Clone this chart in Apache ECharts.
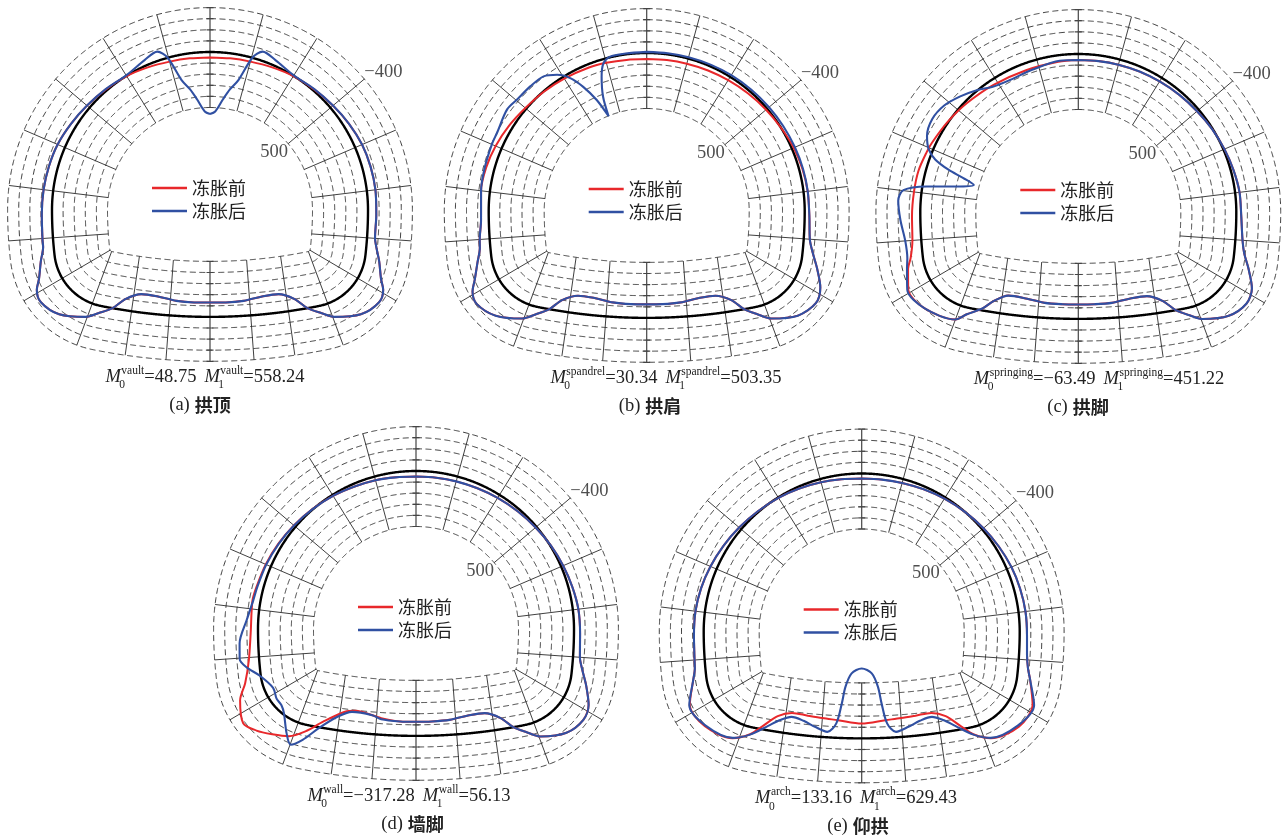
<!DOCTYPE html>
<html>
<head>
<meta charset="utf-8">
<script src="https://cdn.jsdelivr.net/npm/echarts@6.0.0/dist/echarts.min.js"></script>
<style>
  html, body { margin: 0; padding: 0; background: #ffffff; }
  #chart { width: 1285px; height: 838px; }
</style>
</head>
<body>
<div id="chart"></div>
<script>
// ---- Bending moment (kN·m) around the lining; pos: 0 = crown, 0..11 right half, 11 = invert, 11..22 left half ----
const ringValues = [-400, -300, -200, -100, 0, 100, 200, 300, 400, 500];
const tickLabels = [-400, 500];
const panelTitles = ['拱顶', '拱肩', '拱脚', '墙脚', '仰拱'];
const panelLetters = ['a', 'b', 'c', 'd', 'e'];
const momentTags = ['vault', 'spandrel', 'springing', 'wall', 'arch'];
const seriesNames = ['冻胀前', '冻胀后'];

// value at the frost-heave location of each case (before / after)
const keyPos = [0, 20.6, 17.46, 14.85, 11];
const keyBefore = [48.75, 30.34, -63.49, -317.28, 133.16];
const keyAfter = [558.24, 503.35, 451.22, 56.13, 629.43];

const vaultBefore = [[0.5,45],[1,38],[1.5,22],[2,3],[2.5,-12],[3,-30],[3.5,-50],[4,-68],[4.5,-75],[5,-78],[5.5,-75],[6,-72],[6.2,-90],[6.5,-130],[6.8,-190],[6.95,-250],[7.16,-280],[7.52,-236],[7.97,-134],[8.21,-66],[8.52,0],[8.8,100],[9.2,165],[9.68,160],[10.15,135],[10.6,128],[11,129],[11.4,128],[11.85,135],[12.32,160],[12.8,165],[13.2,100],[13.48,0],[13.79,-66],[14.03,-134],[14.48,-236],[14.84,-280],[15.05,-250],[15.2,-190],[15.5,-130],[15.8,-95],[16,-95],[16.5,-92],[17,-87],[17.5,-80],[18,-71],[18.5,-50],[19,-30],[19.5,-12],[20,3],[20.5,22],[21,38],[21.5,45]];
const vaultAfter = [[0.2,535],[0.44,419],[0.62,320],[0.81,225],[1.02,0],[1.19,-80],[1.5,-50],[2,-5],[2.5,-15],[3,-30],[3.5,-50],[4,-68],[4.5,-75],[5,-78],[5.5,-75],[6,-72],[6.2,-90],[6.5,-130],[6.8,-190],[6.95,-250],[7.16,-280],[7.52,-236],[7.97,-134],[8.21,-66],[8.52,0],[8.8,100],[9.2,165],[9.68,160],[10.15,135],[10.6,128],[11,129],[11.4,128],[11.85,135],[12.32,160],[12.8,165],[13.2,100],[13.48,0],[13.79,-66],[14.03,-134],[14.48,-236],[14.84,-280],[15.05,-250],[15.2,-190],[15.5,-130],[15.8,-95],[16,-95],[16.5,-92],[17,-87],[17.5,-80],[18,-71],[18.5,-50],[19,-30],[19.5,-15],[20,-5],[20.5,-50],[20.81,-80],[20.98,0],[21.19,225],[21.38,320],[21.56,419],[21.8,535]];

const spandrelBefore = [[0,55],[0.5,52],[1,48],[1.5,42],[2,35],[2.5,25],[3,13],[3.5,0],[4,-18],[4.5,-30],[5,-38],[5.5,-42],[6,-55],[6.3,-90],[6.6,-150],[6.9,-240],[7.16,-280],[7.52,-240],[7.97,-140],[8.21,-70],[8.52,0],[8.8,100],[9.2,160],[9.68,155],[10.15,130],[10.6,122],[11,122],[11.4,122],[11.85,130],[12.32,155],[12.8,160],[13.2,100],[13.48,0],[13.79,-70],[14.03,-140],[14.48,-240],[14.84,-290],[15.05,-260],[15.2,-200],[15.5,-130],[15.8,-95],[16,-90],[16.4,-70],[17,-80],[17.5,-75],[18,-58],[18.5,-35],[19,-10],[19.5,5],[20,18],[21,40],[21.5,50],[22,55]];
const spandrelAfter = [[0,-10],[0.5,-10],[1,-12],[1.5,-15],[2,-18],[2.5,-20],[3,-22],[3.5,-25],[4,-30],[4.5,-35],[5,-38],[5.5,-42],[6,-55],[6.3,-90],[6.6,-150],[6.9,-240],[7.16,-280],[7.52,-240],[7.97,-140],[8.21,-70],[8.52,0],[8.8,100],[9.2,160],[9.68,155],[10.15,130],[10.6,122],[11,122],[11.4,122],[11.85,130],[12.32,155],[12.8,160],[13.2,100],[13.48,0],[13.79,-70],[14.03,-140],[14.48,-240],[14.84,-290],[15.05,-260],[15.2,-200],[15.5,-130],[15.8,-95],[16,-90],[16.4,-70],[17,-80],[17.5,-87],[18,-95],[18.26,-98],[18.75,-132],[19.03,-117],[19.38,-113],[19.69,-104],[19.92,-46],[20.12,42],[20.29,167],[20.46,327],[20.66,322],[20.8,148],[20.93,39],[21.11,-5],[21.5,-8],[22,-10]];

const springingBefore = [[0,54],[0.5,52],[1,48],[1.5,43],[2,38],[2.5,30],[3,20],[3.5,5],[4,-10],[4.5,-25],[5,-40],[5.5,-45],[6,-65],[6.3,-90],[6.6,-150],[6.9,-240],[7.16,-270],[7.52,-230],[7.97,-135],[8.21,-68],[8.52,0],[8.8,100],[9.2,165],[9.68,160],[10.15,135],[10.6,130],[11,130],[11.4,130],[11.85,135],[12.32,160],[12.84,168],[13.2,100],[13.44,20],[13.8,-60],[14,-135],[14.61,-200],[15.06,-215],[15.4,-150],[15.6,-110],[16,-80],[16.5,-75],[17,-68],[17.9,-45],[18.12,-35],[18.65,-7],[19.22,20],[19.9,47],[20.7,62],[21.5,58],[22,54]];
const springingAfter = [[0,54],[0.5,52],[1,48],[1.5,43],[2,38],[2.5,30],[3,20],[3.5,5],[4,-10],[4.5,-25],[5,-40],[5.5,-45],[6,-65],[6.3,-90],[6.6,-150],[6.9,-240],[7.16,-270],[7.52,-230],[7.97,-135],[8.21,-68],[8.52,0],[8.8,100],[9.2,165],[9.68,160],[10.15,135],[10.6,130],[11,130],[11.4,130],[11.85,135],[12.32,160],[12.84,168],[13.2,100],[13.44,20],[13.8,-60],[14,-135],[14.61,-200],[15.06,-225],[15.4,-160],[15.6,-140],[16.01,-145],[16.43,-180],[16.8,-202],[17.01,-165],[17.16,38],[17.32,333],[17.58,344],[17.68,193],[17.81,50],[17.97,-39],[18.2,-102],[18.54,-136],[18.89,-119],[19.23,-65],[19.54,-7],[19.88,59],[20.27,84],[20.85,76],[21.54,50],[22,54]];

const wallBefore = [[0,50],[0.5,48],[1,45],[1.5,40],[2,32],[2.5,22],[3,10],[3.5,-5],[4,-20],[4.5,-35],[5,-50],[5.5,-55],[6,-62],[6.3,-95],[6.6,-150],[6.9,-230],[7.16,-260],[7.52,-230],[7.97,-140],[8.21,-70],[8.52,0],[8.8,100],[9.2,165],[9.68,160],[10.15,135],[10.6,128],[11,127],[11.4,128],[11.88,150],[12.6,194],[12.87,174],[13.39,56],[13.78,-59],[14.08,-146],[14.37,-204],[14.62,-270],[15.19,-240],[15.45,-150],[15.94,-93],[16.51,-66],[17.18,-72],[17.5,-62],[18,-50],[18.5,-35],[19,-20],[19.5,-5],[20,10],[20.5,25],[21,35],[21.5,45],[22,50]];
const wallAfter = [[0,50],[0.5,48],[1,45],[1.5,40],[2,32],[2.5,22],[3,10],[3.5,-5],[4,-20],[4.5,-35],[5,-50],[5.5,-55],[6,-62],[6.3,-95],[6.6,-150],[6.9,-230],[7.16,-260],[7.52,-230],[7.97,-140],[8.21,-70],[8.52,0],[8.8,100],[9.2,165],[9.68,160],[10.15,135],[10.6,128],[11,127],[11.4,128],[11.88,140],[12.12,170],[12.68,181],[13.05,120],[13.47,-8],[13.8,-139],[13.99,-211],[14.15,-128],[14.43,10],[14.62,50],[15.16,78],[15.55,-8],[15.78,-120],[15.98,-175],[16.3,-168],[16.77,-104],[17.19,-65],[17.5,-55],[18,-45],[18.5,-32],[19,-18],[19.5,-3],[20,10],[20.5,25],[21,35],[21.5,45],[22,50]];

const archBefore = [[0,45],[0.5,43],[1,36],[1.5,26],[2,14],[2.5,0],[3,-15],[3.5,-30],[4,-45],[4.5,-55],[5,-63],[5.5,-66],[5.9,-72],[6.2,-90],[6.45,-120],[6.87,-205],[7.33,-215],[7.88,-150],[8.2,-65],[8.45,24],[8.8,140],[9.16,188],[9.6,180],[10,170],[10.4,159],[11.6,159],[12,170],[12.4,180],[12.84,188],[13.2,140],[13.55,24],[13.8,-65],[14.12,-150],[14.67,-210],[15.13,-215],[15.55,-120],[15.8,-95],[16.1,-90],[16.5,-88],[17,-85],[17.5,-75],[18,-60],[18.5,-42],[19,-25],[19.5,-8],[20,5],[20.5,18],[21,30],[21.5,40],[22,45]];
const archAfter = [[0,45],[0.5,43],[1,36],[1.5,26],[2,14],[2.5,0],[3,-15],[3.5,-30],[4,-45],[4.5,-55],[5,-63],[5.5,-66],[5.9,-72],[6.2,-90],[6.45,-120],[6.87,-220],[7.33,-201],[7.88,-147],[8.2,-68],[8.6,40],[8.88,110],[9.16,152],[9.5,130],[9.82,86],[10.15,49],[10.36,130],[10.48,312],[10.56,462],[10.72,585],[11.28,585],[11.44,462],[11.52,312],[11.64,130],[11.85,49],[12.18,86],[12.5,130],[12.84,152],[13.12,110],[13.4,40],[13.8,-68],[14.12,-147],[14.67,-201],[15.13,-220],[15.55,-120],[15.8,-95],[16.1,-90],[16.5,-88],[17,-85],[17.5,-75],[18,-60],[18.5,-42],[19,-25],[19.5,-8],[20,5],[20.5,18],[21,30],[21.5,40],[22,45]];

const beforeSets = [vaultBefore, spandrelBefore, springingBefore, wallBefore, archBefore];
const afterSets = [vaultAfter, spandrelAfter, springingAfter, wallAfter, archAfter];

// ---- Layout (px) ----
const PANEL_CX = [210, 646.7, 1078.3, 416, 861.7];
const PANEL_CY = [210, 211, 212, 629, 631.5];
const FORMULA_CX = [205, 666, 1099, 409, 856];
const CAPTION_CX = [200, 650, 1078, 412.5, 858];
const HALF_W = 206, TOP_H = 206, BOTTOM_H = 156;

// ---- Lining outline (zero-moment line), 1 unit = 1 px ----
const RING_GAP = 11.1;          // drawing length of 100 kN·m
const CROWN_R = 158, SIDE_R = 400, SIDE_TURN = 6.5 * Math.PI / 180, CORNER_R = 58.5, INVERT_R = 550;
const SPOKE_ARC = [0, 42, 88, 137, 184, 229, 276, 318, 358, 398, 436];

const RED = '#e8282b', BLUE = '#3050a2', INK = '#1a1a1a';
const SERIF = '"Liberation Serif", "DejaVu Serif", serif';
const CJK = '"Noto Sans CJK SC", "Noto Sans CJK JP", sans-serif';

function buildOutline() {
  const segs = [];
  segs.push({ cx: 0, cy: 0, r: CROWN_R, a0: Math.PI / 2, a1: Math.PI });
  const c2 = [-CROWN_R + SIDE_R, 0];
  const a2 = Math.PI + SIDE_TURN;
  segs.push({ cx: c2[0], cy: c2[1], r: SIDE_R, a0: Math.PI, a1: a2 });
  const p2 = [c2[0] + SIDE_R * Math.cos(a2), c2[1] + SIDE_R * Math.sin(a2)];
  const c3 = [p2[0] - CORNER_R * Math.cos(a2), p2[1] - CORNER_R * Math.sin(a2)];
  const a3 = 2 * Math.PI - Math.acos(-c3[0] / (CORNER_R - INVERT_R));
  segs.push({ cx: c3[0], cy: c3[1], r: CORNER_R, a0: a2, a1: a3 });
  const c4y = c3[1] + (CORNER_R - INVERT_R) * Math.sin(a3);
  segs.push({ cx: 0, cy: c4y, r: INVERT_R, a0: a3, a1: 1.5 * Math.PI });
  let s = 0;
  segs.forEach(g => { g.s0 = s; g.len = g.r * (g.a1 - g.a0); s += g.len; });
  return { segs, half: s };
}
const OUTLINE = buildOutline();
const SPOKE_S = SPOKE_ARC.concat([OUTLINE.half]);

function offsetOf(m) { return -m * RING_GAP / 100; }

// point of the moment line at perimeter position pos and outward offset
function pointAt(pos, offset) {
  const right = pos <= 11;
  const k = right ? pos : 22 - pos;
  const i = Math.min(Math.floor(k), 10);
  const s = SPOKE_S[i] + (SPOKE_S[i + 1] - SPOKE_S[i]) * (k - i);
  let g = OUTLINE.segs[OUTLINE.segs.length - 1];
  for (const seg of OUTLINE.segs) { if (s <= seg.s0 + seg.len + 1e-9) { g = seg; break; } }
  const a = g.a0 + (s - g.s0) / g.r;
  const R = g.r + offset;
  const x = g.cx + R * Math.cos(a), y = g.cy + R * Math.sin(a);
  return [right ? -x : x, y];
}

function ringPath(m) {
  const pts = [];
  for (let j = 0; j <= 1100; j++) pts.push(pointAt(j * 0.02, offsetOf(m)));
  return pts;
}

function withKey(arr, pos, val) {
  const out = arr.filter(p => Math.abs(p[0] - pos) > 1e-6 && !(pos === 0 && Math.abs(p[0] - 22) < 1e-6));
  out.push([pos, val]);
  if (pos === 0) out.push([22, val]);
  return out.sort((a, b) => a[0] - b[0]);
}

function toXY(arr) { return arr.map(p => pointAt(p[0], offsetOf(p[1]))); }

function fmtNum(v, digits) {
  const s = Math.abs(v).toFixed(digits);
  return (v < 0 ? '\u2212' : '') + s;
}

// text measuring for the formula lines
const measureCtx = document.createElement('canvas').getContext('2d');
function textWidth(str, font) { measureCtx.font = font; return measureCtx.measureText(str).width; }

const grids = [], xAxes = [], yAxes = [], series = [], legends = [], graphics = [];

const ringPaths = ringValues.map(ringPath);

for (let i = 0; i < 5; i++) {
  const cx = PANEL_CX[i], cy = PANEL_CY[i];
  grids.push({ left: cx - HALF_W, top: cy - TOP_H, width: 2 * HALF_W, height: TOP_H + BOTTOM_H });
  xAxes.push({ gridIndex: i, type: 'value', min: -HALF_W, max: HALF_W, show: false });
  yAxes.push({ gridIndex: i, type: 'value', min: -BOTTOM_H, max: TOP_H, show: false });

  // dashed rings
  series.push({
    type: 'lines', coordinateSystem: 'cartesian2d', xAxisIndex: i, yAxisIndex: i,
    polyline: true, silent: true, z: 1,
    data: ringPaths.map(p => ({ coords: p })),
    lineStyle: { color: '#2a2a2a', width: 0.9, type: [6, 3.5], opacity: 1 }
  });
  // spokes
  const spokes = [];
  const inner = offsetOf(ringValues[ringValues.length - 1]);
  const outer = offsetOf(ringValues[0]);
  for (let k = 0; k < 22; k++) {
    if (k === 0 || k === 11) continue;
    spokes.push({ coords: [pointAt(k, inner), pointAt(k, outer)] });
  }
  series.push({
    type: 'lines', coordinateSystem: 'cartesian2d', xAxisIndex: i, yAxisIndex: i,
    polyline: true, silent: true, z: 2, data: spokes,
    lineStyle: { color: '#2a2a2a', width: 0.9, type: 'solid', opacity: 1 }
  });
  // vertical centre spokes with small ticks at each ring
  const centre = [];
  [0, 11].forEach(k => {
    centre.push({ coords: [pointAt(k, inner), pointAt(k, outer)] });
    ringValues.forEach(v => {
      const p = pointAt(k, offsetOf(v));
      centre.push({ coords: [[p[0] - 3.5, p[1]], [p[0] + 3.5, p[1]]] });
    });
  });
  series.push({
    type: 'lines', coordinateSystem: 'cartesian2d', xAxisIndex: i, yAxisIndex: i,
    polyline: true, silent: true, z: 2, data: centre,
    lineStyle: { color: '#444', width: 1.2, type: 'solid', opacity: 1 }
  });
  // zero line
  series.push({
    type: 'lines', coordinateSystem: 'cartesian2d', xAxisIndex: i, yAxisIndex: i,
    polyline: true, silent: true, z: 3,
    data: [{ coords: ringPath(0) }],
    lineStyle: { color: '#000', width: 2.4, type: 'solid', opacity: 1 }
  });
  // moment lines
  series.push({
    type: 'line', name: seriesNames[0], xAxisIndex: i, yAxisIndex: i,
    data: toXY(withKey(beforeSets[i], keyPos[i], keyBefore[i])),
    smooth: 0.3, symbol: 'none', silent: true, z: 4,
    lineStyle: { color: RED, width: 2 }, itemStyle: { color: RED }
  });
  series.push({
    type: 'line', name: seriesNames[1], xAxisIndex: i, yAxisIndex: i,
    data: toXY(withKey(afterSets[i], keyPos[i], keyAfter[i])),
    smooth: 0.3, symbol: 'none', silent: true, z: 5,
    lineStyle: { color: BLUE, width: 2.1 }, itemStyle: { color: BLUE }
  });
  // ring value labels at the ends of the third spoke
  const nudges = [[19, 7], [-14, -8]];
  series.push({
    type: 'scatter', xAxisIndex: i, yAxisIndex: i, silent: true, z: 6,
    symbolSize: 1, itemStyle: { color: 'rgba(0,0,0,0)' },
    data: tickLabels.map((v, j) => {
      const p = pointAt(3, offsetOf(v));
      return { name: fmtNum(v, 0), value: [p[0] + nudges[j][0], p[1] + nudges[j][1]] };
    }),
    label: { show: true, position: 'inside', formatter: '{b}', fontFamily: SERIF, fontSize: 18.5, color: '#222' }
  });

  legends.push({
    data: seriesNames, orient: 'vertical', left: cx - 63, top: cy - 37,
    itemWidth: 35, itemHeight: 2.6, itemGap: 3, icon: 'rect', selectedMode: false,
    textStyle: { fontFamily: CJK, fontSize: 18, color: '#222', lineHeight: 20 }
  });

  // formula line
  const mainFont = `18.5px ${SERIF}`;
  const italicFont = `italic 18.5px ${SERIF}`;
  const smallFont = `11.5px ${SERIF}`;
  const base = cy + 173;
  const parts = [];
  let x = 0;
  const addTerm = (sub, val) => {
    parts.push({ text: 'M', font: italicFont, x, y: base - 6.3 });
    x += textWidth('M', italicFont);
    const wTag = textWidth(momentTags[i], smallFont), wSub = textWidth(sub, smallFont);
    parts.push({ text: momentTags[i], font: smallFont, x: x + 0.5, y: base - 12.4 });
    parts.push({ text: sub, font: smallFont, x: x - 1.5, y: base + 2.3 });
    x += Math.max(wTag, wSub) + 0.5;
    const s = '=' + fmtNum(val, 2);
    parts.push({ text: s, font: mainFont, x, y: base - 6.3 });
    x += textWidth(s, mainFont);
  };
  addTerm('0', keyBefore[i]);
  x += 8;
  addTerm('1', keyAfter[i]);
  const shift = FORMULA_CX[i] - x / 2;
  parts.forEach(p => graphics.push({
    type: 'text', x: p.x + shift, y: p.y, silent: true, z: 10,
    style: { text: p.text, font: p.font, fill: '#222', textAlign: 'left', textVerticalAlign: 'middle', align: 'left', verticalAlign: 'middle' }
  }));

  // caption
  const capA = `(${panelLetters[i]})`, capB = panelTitles[i];
  const fA = `18.5px ${SERIF}`, fB = `bold 18px ${CJK}`;
  const wA = textWidth(capA, fA), wB = textWidth(capB, fB), gap = 5;
  const x0 = CAPTION_CX[i] - (wA + gap + wB) / 2;
  const yc = cy + 195;
  graphics.push({ type: 'text', x: x0, y: yc, silent: true, z: 10,
    style: { text: capA, font: fA, fill: '#222', textAlign: 'left', textVerticalAlign: 'middle', align: 'left', verticalAlign: 'middle' } });
  graphics.push({ type: 'text', x: x0 + wA + gap, y: yc, silent: true, z: 10,
    style: { text: capB, font: fB, fill: '#222', textAlign: 'left', textVerticalAlign: 'middle', align: 'left', verticalAlign: 'middle' } });
}

const chart = echarts.init(document.getElementById('chart'), null, { renderer: 'canvas' });
chart.setOption({
  backgroundColor: '#ffffff',
  animation: false,
  grid: grids,
  xAxis: xAxes,
  yAxis: yAxes,
  legend: legends,
  series: series,
  graphic: graphics
});
</script>
</body>
</html>
